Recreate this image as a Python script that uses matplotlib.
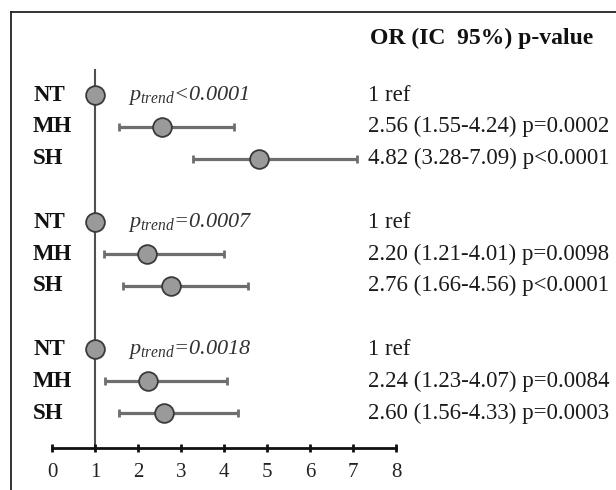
import matplotlib
matplotlib.use("Agg")
import matplotlib.pyplot as plt
from matplotlib.lines import Line2D

plt.rcParams['font.family'] = ['Liberation Serif', 'DejaVu Serif']
plt.rcParams['mathtext.fontset'] = 'custom'
plt.rcParams['mathtext.rm'] = 'Liberation Serif'
plt.rcParams['mathtext.it'] = 'Liberation Serif:italic'
plt.rcParams['mathtext.bf'] = 'Liberation Serif:bold'

# ---- data ----
row_labels = ["NT", "MH", "SH"]
or_g1 = [1.0, 2.56, 4.82]
lo_g1 = [1.0, 1.55, 3.28]
hi_g1 = [1.0, 4.24, 7.09]
or_g2 = [1.0, 2.20, 2.76]
lo_g2 = [1.0, 1.21, 1.66]
hi_g2 = [1.0, 4.01, 4.56]
or_g3 = [1.0, 2.24, 2.60]
lo_g3 = [1.0, 1.23, 1.56]
hi_g3 = [1.0, 4.07, 4.33]
txt_g1 = ["1 ref", "2.56 (1.55-4.24) p=0.0002", "4.82 (3.28-7.09) p<0.0001"]
txt_g2 = ["1 ref", "2.20 (1.21-4.01) p=0.0098", "2.76 (1.66-4.56) p<0.0001"]
txt_g3 = ["1 ref", "2.24 (1.23-4.07) p=0.0084", "2.60 (1.56-4.33) p=0.0003"]
ptrend = ["<0.0001", "=0.0007", "=0.0018"]
xticks = [0, 1, 2, 3, 4, 5, 6, 7, 8]
header = "OR (IC  95%) p-value"

groups = [(or_g1, lo_g1, hi_g1, txt_g1),
          (or_g2, lo_g2, hi_g2, txt_g2),
          (or_g3, lo_g3, hi_g3, txt_g3)]

W, H = 616, 490
fig = plt.figure(figsize=(W / 100, H / 100), dpi=100)
ax = fig.add_axes([52 / W, 1 - 448 / H, 344 / W, (448 - 12) / H])
ax.set_xlim(0, 8)
ax.set_ylim(11.1, -2.61)

ax.plot([1, 1], [-0.79, 11.1], color="#505050", lw=1.5, zorder=1)

for g, (orv, lo, hi, txt) in enumerate(groups):
    for i in range(3):
        y = g * 4 + i
        if hi[i] > lo[i]:
            ax.errorbar([orv[i]], [y], xerr=[[orv[i] - lo[i]], [hi[i] - orv[i]]],
                        fmt='none', ecolor="#6e6e6e", elinewidth=2.3,
                        capsize=3, capthick=2, zorder=2)
        ax.plot([orv[i]], [y], 'o', ms=13.5, mfc="#9a9a9a", mec="#3a3a3a",
                mew=1.3, zorder=3)
        ax.text(-0.44, y, row_labels[i], fontsize=16.5, fontweight='bold',
                ha='left', va='center', color="#111111")
        ax.text(7.35, y, txt[i], fontsize=16.5, ha='left', va='center',
                color="#1a1a1a")
    ax.text(1.77, g * 4, r"$p_{trend}$" + ptrend[g], fontsize=16,
            fontstyle='italic', ha='left', va='center', color="#333333")

ax.text(7.4, -1.78, header, fontsize=17, fontweight='bold', ha='left',
        va='center', color="#111111")

for s in ["top", "right", "left"]:
    ax.spines[s].set_visible(False)
ax.spines["bottom"].set_linewidth(2)
ax.spines["bottom"].set_color("#111111")
ax.set_yticks([])
ax.set_xticks(xticks)
ax.tick_params(axis='x', direction='inout', length=6, width=2,
               labelsize=15, pad=8, colors="#111111", labelcolor="#222222")

fig.add_artist(Line2D([11 / W, 11 / W], [0, 1 - 12 / H], transform=fig.transFigure,
                      color="#222222", lw=1.3))
fig.add_artist(Line2D([11 / W, 1], [1 - 12 / H, 1 - 12 / H], transform=fig.transFigure,
                      color="#222222", lw=1.3))

fig.savefig("out.png", dpi=100)
